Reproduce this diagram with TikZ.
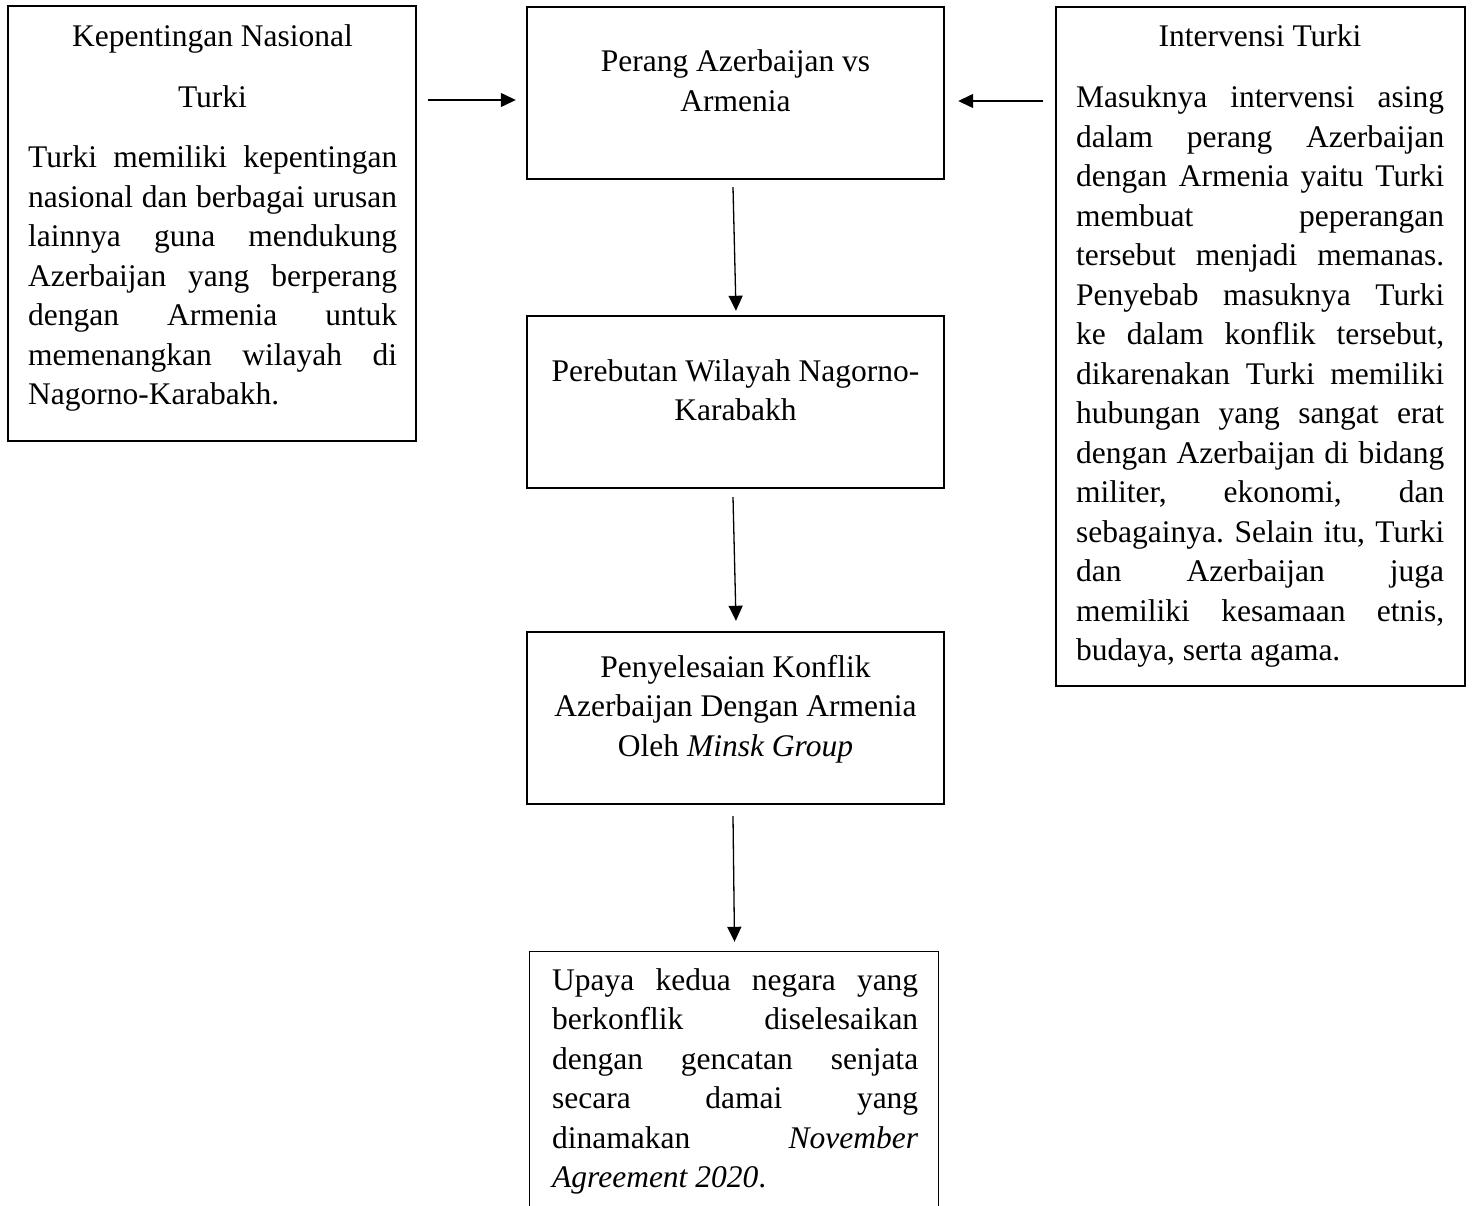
\documentclass[tikz,border=0pt]{standalone}
\usepackage{fontspec}
\setmainfont{Liberation Serif}
\usetikzlibrary{arrows.meta}
\newdimen\myjw
\newcommand{\myjust}[1]{\hbox to\myjw{\spaceskip=0.25em plus 1fil minus 0.12em\relax #1}}
\newcommand{\mylast}[1]{\hbox to\myjw{\spaceskip=0.25em\relax #1\hfil}}
\begin{document}
\frenchspacing
\begin{tikzpicture}[x=1pt,y=-1pt,
  thinbox/.style={draw=black, line width=1.3pt, inner sep=0pt},
  thickbox/.style={draw=black, line width=2.4pt, inner sep=0pt, minimum width=417pt, minimum height=172pt},
  txt/.style={inner sep=0pt, font=\fontsize{31.5}{39.5}\selectfont\frenchspacing, anchor=base},
  jtxt/.style={txt, text width=369pt, anchor=base west},
  ctxt/.style={txt, text width=417pt, align=center},
  arr/.style={line width=1.3pt, -{Triangle[length=15pt,width=14pt]}}]
\useasboundingbox[fill=white] (0,0) rectangle (1472,1206);

% boxes
\node[thinbox, minimum width=408pt, minimum height=435pt] (lb) at (212,223.5) {};
\node[thinbox, minimum width=409pt, minimum height=679pt] (rb) at (1260.5,346.5) {};
\node[thickbox] (b1) at (735.5,93) {};
\node[thickbox] (b2) at (735.5,402) {};
\node[thickbox] (b3) at (735.5,718) {};
\node[inner sep=0pt, minimum width=408pt, minimum height=254pt] (bb) at (734,1079) {};
\draw[line width=1.3pt] (bb.south west) -- (bb.north west) -- (bb.north east) -- (bb.south east);

% left texts
\node[ctxt, text width=369pt] (lt1) at (212.5,46.5) {\spaceskip=0.25em\relax Kepentingan Nasional};
\node[ctxt, text width=369pt] (lt2) at (212.5,107.5) {Turki};
\node[jtxt] (lt3) at (28,168) {\myjw=369pt\relax
\myjust{Turki memiliki kepentingan}
\myjust{nasional dan berbagai urusan}
\myjust{lainnya guna mendukung}
\myjust{Azerbaijan yang berperang}
\myjust{dengan Armenia untuk}
\myjust{memenangkan wilayah di}
\mylast{Nagorno-Karabakh.}};

% right texts
\node[ctxt, text width=368pt] (rt1) at (1260,47) {\spaceskip=0.25em\relax Intervensi Turki};
\node[jtxt, text width=368pt] (rt2) at (1076,108) {\myjw=368pt\relax
\myjust{Masuknya intervensi asing}
\myjust{dalam perang Azerbaijan}
\myjust{dengan Armenia yaitu Turki}
\myjust{membuat peperangan}
\myjust{tersebut menjadi memanas.}
\myjust{Penyebab masuknya Turki}
\myjust{ke dalam konflik tersebut,}
\myjust{dikarenakan Turki memiliki}
\myjust{hubungan yang sangat erat}
\myjust{dengan Azerbaijan di bidang}
\myjust{militer, ekonomi, dan}
\myjust{sebagainya. Selain itu, Turki}
\myjust{dan Azerbaijan juga}
\myjust{memiliki kesamaan etnis,}
\mylast{budaya, serta agama.}};

% center texts
\node[ctxt] (c1) at (735.5,72) {\spaceskip=0.25em\relax Perang Azerbaijan vs\\Armenia};
\node[ctxt] (c2) at (735.5,381) {\spaceskip=0.25em\relax Perebutan Wilayah Nagorno-\\Karabakh};
\node[ctxt] (c3) at (735.5,677) {\spaceskip=0.25em\relax Penyelesaian Konflik\\Azerbaijan Dengan Armenia\\Oleh \textit{Minsk Group}};

% bottom text
\node[jtxt, text width=366pt] (bt) at (552,990) {\myjw=366pt\relax
\myjust{Upaya kedua negara yang}
\myjust{berkonflik diselesaikan}
\myjust{dengan gencatan senjata}
\myjust{secara damai yang}
\myjust{dinamakan \textit{November}}
\mylast{\textit{Agreement 2020}.}};

% arrows
\coordinate (la) at (428,100);
\coordinate (ra) at (1043,101);
\draw[arr, shorten >=10pt] (la) -- (b1.west |- la);
\draw[arr, shorten >=13pt] (ra) -- (b1.east |- ra);
\draw[arr] ([xshift=-2.5pt,yshift=-7pt]b1.south) -- ([xshift=0.5pt,yshift=4pt]b2.north);
\draw[arr] ([xshift=-2.5pt,yshift=-8pt]b2.south) -- ([xshift=0.5pt,yshift=10pt]b3.north);
\draw[arr] ([xshift=-2.5pt,yshift=-11pt]b3.south) -- ([xshift=0.5pt,yshift=10pt]bb.north);
\end{tikzpicture}
\end{document}
